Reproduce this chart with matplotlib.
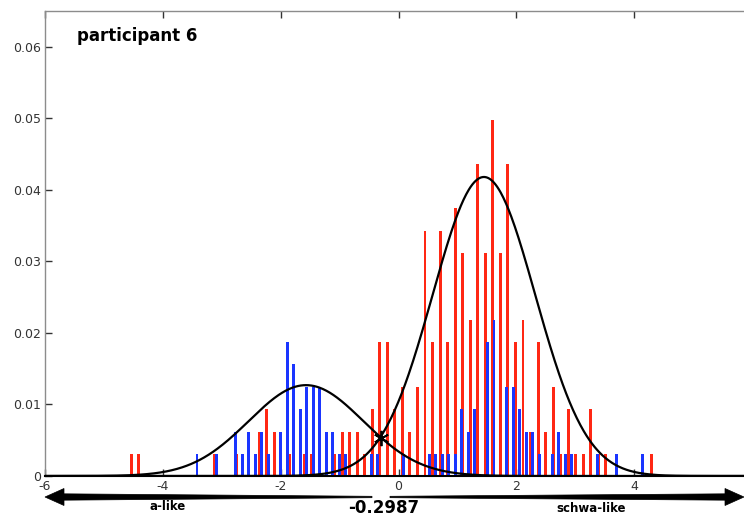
import numpy as np
import matplotlib
matplotlib.use("Agg")
import matplotlib.pyplot as plt
from matplotlib.patches import Polygon

# ---- data ----
red_x = [-4.538, -4.410, -3.131, -2.748, -2.364, -2.236, -2.108, -1.852, -1.596, -1.469,
         -1.341, -1.085, -0.957, -0.829, -0.701, -0.573, -0.446, -0.318, -0.190, -0.062,
         0.066, 0.194, 0.322, 0.450, 0.578, 0.706, 0.833, 0.961, 1.089, 1.217, 1.345,
         1.473, 1.601, 1.729, 1.857, 1.985, 2.113, 2.241, 2.369, 2.496, 2.624, 2.752,
         2.880, 3.008, 3.136, 3.264, 3.392, 3.520, 4.287]
red_h = [0.0031, 0.0031, 0.0031, 0.0031, 0.0062, 0.0093, 0.0062, 0.0031, 0.0031, 0.0031,
         0.0031, 0.0031, 0.0062, 0.0062, 0.0062, 0.0031, 0.0093, 0.0187, 0.0187, 0.0093,
         0.0125, 0.0062, 0.0125, 0.0343, 0.0187, 0.0343, 0.0187, 0.0374, 0.0312, 0.0218,
         0.0436, 0.0312, 0.0498, 0.0312, 0.0436, 0.0187, 0.0218, 0.0062, 0.0187, 0.0062,
         0.0125, 0.0031, 0.0093, 0.0031, 0.0031, 0.0093, 0.0031, 0.0031, 0.0031]

blue_x = [-3.420, -3.091, -2.762, -2.652, -2.543, -2.433, -2.324, -2.214, -1.995, -1.886,
          -1.776, -1.666, -1.557, -1.447, -1.338, -1.228, -1.118, -1.009, -0.899, -0.461,
          -0.351, 0.087, 0.525, 0.635, 0.745, 0.854, 0.964, 1.073, 1.183, 1.292, 1.512,
          1.621, 1.840, 1.950, 2.060, 2.169, 2.279, 2.388, 2.607, 2.717, 2.827, 2.936,
          3.374, 3.703, 4.141]
blue_h = [0.0031, 0.0031, 0.0062, 0.0031, 0.0062, 0.0031, 0.0062, 0.0031, 0.0062, 0.0187,
          0.0156, 0.0093, 0.0125, 0.0125, 0.0125, 0.0062, 0.0062, 0.0031, 0.0031, 0.0031,
          0.0031, 0.0031, 0.0031, 0.0031, 0.0031, 0.0031, 0.0031, 0.0093, 0.0062, 0.0093,
          0.0187, 0.0218, 0.0125, 0.0125, 0.0093, 0.0062, 0.0062, 0.0031, 0.0031, 0.0062,
          0.0031, 0.0031, 0.0031, 0.0031, 0.0031]

# fitted gaussian components (mean, sigma, peak height)
comp_a = (-1.57, 0.97, 0.0127)
comp_b = (1.45, 0.87, 0.0418)
boundary = -0.2987

title_text = "participant 6"
left_label = "a-like"
right_label = "schwa-like"
x_ticks = [-6, -4, -2, 0, 2, 4]
y_ticks = [0, 0.01, 0.02, 0.03, 0.04, 0.05, 0.06]
y_tick_labels = ["0", "0.01", "0.02", "0.03", "0.04", "0.05", "0.06"]

W, H = 744, 516
fig = plt.figure(figsize=(W / 100, H / 100), dpi=100)

def fx(px):
    return px / W

def fy(py):
    return 1 - py / H

# axes: x=-6 at px 45, x=6 at px ~752 (clipped by the figure edge)
ax = fig.add_axes([fx(45), fy(476), (752 - 45) / W, (476 - 11) / H])
ax.set_xlim(-6, 6)
ax.set_ylim(0, 0.065)

red_c = "#ff2814"
blue_c = "#1a35ff"
ax.bar(red_x, red_h, width=0.05, color=red_c, linewidth=0, zorder=2)
ax.bar(blue_x, blue_h, width=0.05, color=blue_c, linewidth=0, zorder=2)

xs = np.linspace(-6, 6, 800)
for m, s, p in (comp_a, comp_b):
    ax.plot(xs, p * np.exp(-(xs - m) ** 2 / (2 * s ** 2)), color="black", lw=1.6, zorder=3)

m, s, p = comp_a
ycross = p * np.exp(-(boundary - m) ** 2 / (2 * s ** 2))
ax.plot([boundary], [ycross], marker=(6, 2, 0), color="black", markersize=11,
        markeredgewidth=1.3, zorder=4)

ax.axhline(0, color="black", lw=2, zorder=3)

ax.set_xticks(x_ticks)
ax.set_xticklabels([str(t) for t in x_ticks])
ax.set_yticks(y_ticks)
ax.set_yticklabels(y_tick_labels)
ax.tick_params(direction="in", length=5, width=1, colors="#333333",
               labelsize=9, top=True, right=False, pad=3)
for sp in ("left", "top"):
    ax.spines[sp].set_color("#8c8c8c")
    ax.spines[sp].set_linewidth(1)
ax.spines["bottom"].set_color("black")
ax.spines["bottom"].set_linewidth(1.5)
ax.spines["right"].set_visible(False)

ax.text(fx(77), fy(36), title_text, transform=fig.transFigure, fontsize=12,
        fontweight="bold", ha="left", va="center")

# ---- tapered double arrow below the axis ----
yc = 497
left_shaft = [(60, yc - 3.2), (372, yc - 0.7), (372, yc + 0.7), (60, yc + 3.2)]
right_shaft = [(390, yc - 0.7), (728, yc - 3.2), (728, yc + 3.2), (390, yc + 0.7)]
left_head = [(45, yc), (64, yc - 8.5), (64, yc + 8.5)]
right_head = [(744, yc), (725, yc - 8.5), (725, yc + 8.5)]
for poly in (left_shaft, right_shaft, left_head, right_head):
    fig.patches.append(Polygon([(fx(a), fy(b)) for a, b in poly], closed=True,
                               transform=fig.transFigure, facecolor="black",
                               edgecolor="black", lw=0.5))

fig.text(fx(168), fy(506), left_label, fontsize=8.5, fontweight="bold", ha="center", va="center")
fig.text(fx(591), fy(508), right_label, fontsize=8.5, fontweight="bold", ha="center", va="center")
fig.text(fx(384), fy(508), f"{boundary:.4f}", fontsize=12, fontweight="bold",
         ha="center", va="center")

fig.savefig("out.png", dpi=100)
